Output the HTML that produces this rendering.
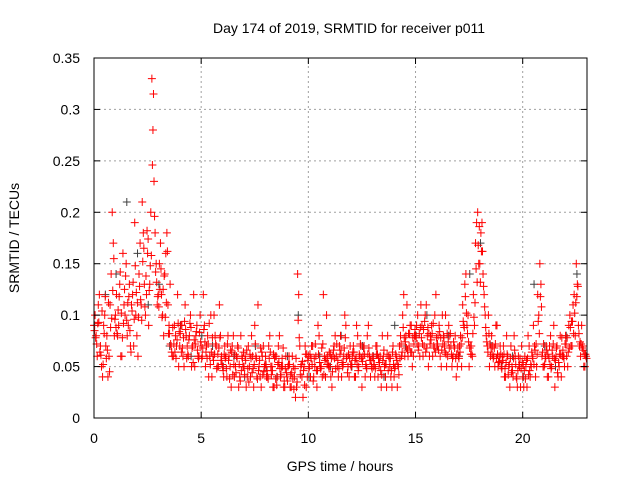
<!DOCTYPE html>
<html><head><meta charset="utf-8">
<style>
html,body{margin:0;padding:0;background:#fff;}
svg{display:block;font-family:"Liberation Sans",sans-serif;}
</style></head>
<body>
<svg id="chart" width="640" height="480">
  <rect width="640" height="480" fill="#fff"/>
  <g id="grid"></g>
  <g id="pts"></g>
  <rect x="94" y="58" width="493" height="360" fill="none" stroke="#000" stroke-width="1"/>
  <g id="axes"></g>
  <text x="349" y="33" font-size="14" text-anchor="middle">Day 174 of 2019, SRMTID for receiver p011</text>
  <text x="340" y="471" font-size="14" text-anchor="middle">GPS time / hours</text>
  <text x="19" y="238" font-size="14" text-anchor="middle" transform="rotate(-90 19 238)">SRMTID / TECUs</text>
</svg>
<script>
const xTicks=[0,5,10,15,20];
const yTicks=[0,0.05,0.1,0.15,0.2,0.25,0.3,0.35];
const yTickLabels=["0","0.05","0.1","0.15","0.2","0.25","0.3","0.35"];
const redAStart=0, redAStep=0.1;
const redA=[.09,.08,.11,.07,.04,.10,.08,.06,.14,.17,
.10,.08,.13,.06,.11,.15,.09,.07,.12,.19,
.08,.14,.11,.18,.10,.16,.13,.33,.23,.15,
.12,.17,.10,.14,.18,.09,.07,.06,.08,.12,
.07,.09,.05,.08,.06,.10,.07,.05,.09,.06,
.07,.12,.05,.08,.06,.04,.10,.07,.05,.08,
.05,.07,.04,.06,.03,.08,.05,.07,.04,.06,
.05,.03,.07,.04,.06,.09,.04,.05,.03,.07,
.06,.04,.08,.05,.03,.06,.07,.04,.05,.03,
.04,.06,.03,.05,.02,.14,.07,.04,.05,.03,
.06,.04,.07,.05,.03,.08,.05,.12,.04,.06,
.05,.03,.07,.06,.04,.08,.05,.10,.06,.04,
.05,.07,.04,.08,.06,.03,.07,.05,.09,.04,
.06,.04,.07,.05,.03,.06,.04,.08,.05,.03,
.04,.06,.05,.08,.10,.06,.11,.07,.09,.06,
.08,.10,.06,.09,.07,.11,.05,.08,.06,.10,
.07,.09,.05,.08,.10,.06,.08,.05,.07,.04,
.06,.08,.11,.13,.09,.05,.07,.12,.17,.20,
.15,.19,.12,.08,.10,.06,.07,.05,.09,.06,
.05,.07,.04,.06,.03,.05,.08,.04,.06,.03,
.04,.06,.03,.07,.05,.09,.04,.12,.15,.06,
.05,.07,.04,.08,.06,.03,.07,.05,.04,.06,
.08,.05,.10,.07,.12,.15,.09,.06,.07,.05];
const redBStart=0.05, redBStep=0.1;
const redB=[.10,.06,.12,.05,.09,.07,.04,.11,.20,.08,
.12,.09,.06,.16,.10,.08,.13,.11,.07,.10,
.06,.17,.21,.13,.12,.09,.20,.28,.18,.11,
.15,.12,.08,.16,.11,.13,.06,.09,.07,.05,
.09,.06,.11,.07,.08,.05,.12,.08,.06,.10,
.06,.09,.07,.04,.10,.06,.08,.05,.11,.06,
.04,.06,.08,.05,.07,.04,.06,.03,.08,.05,
.06,.04,.05,.08,.03,.06,.11,.04,.06,.05,
.04,.07,.05,.03,.06,.04,.08,.05,.03,.06,
.05,.03,.06,.04,.03,.12,.05,.02,.07,.04,
.05,.07,.04,.06,.09,.05,.04,.06,.10,.05,
.04,.06,.08,.05,.07,.04,.06,.09,.05,.07,
.06,.04,.09,.05,.07,.06,.04,.08,.06,.05,
.05,.07,.04,.06,.08,.05,.03,.06,.04,.07,
.05,.03,.07,.06,.12,.08,.06,.09,.05,.08,
.09,.07,.11,.06,.10,.08,.06,.09,.07,.12,
.08,.06,.10,.07,.05,.09,.07,.06,.08,.05,
.07,.05,.09,.14,.10,.07,.06,.09,.19,.15,
.18,.14,.10,.07,.05,.08,.06,.09,.05,.07,
.06,.04,.08,.05,.07,.04,.06,.03,.05,.07,
.03,.05,.08,.04,.06,.07,.05,.10,.13,.05,
.06,.04,.07,.05,.09,.06,.04,.08,.06,.05,
.06,.09,.07,.11,.08,.13,.07,.09,.05,.06];
const redCStart=0.025, redCStep=0.1;
const redC=[.085,.072,.093,.061,.052,.118,.066,.045,.097,.155,
.088,.105,.142,.078,.125,.095,.118,.064,.132,.148,
.112,.128,.095,.165,.138,.174,.148,.246,.196,.132,
.108,.145,.125,.098,.162,.082,.064,.072,.058,.092,
.082,.068,.094,.058,.076,.088,.054,.072,.066,.083,
.058,.086,.064,.072,.052,.078,.062,.048,.068,.056,
.046,.058,.072,.038,.064,.052,.044,.068,.036,.058,
.042,.066,.035,.058,.048,.072,.038,.056,.064,.045,
.052,.038,.064,.046,.058,.032,.054,.042,.068,.048,
.036,.052,.044,.028,.058,.095,.042,.055,.032,.062,
.048,.058,.036,.072,.046,.054,.068,.042,.058,.052,
.062,.045,.058,.072,.048,.066,.052,.078,.044,.058,
.052,.064,.058,.046,.072,.055,.062,.048,.068,.056,
.058,.048,.062,.054,.042,.066,.052,.046,.058,.064,
.048,.056,.042,.072,.088,.074,.066,.082,.064,.072,
.078,.066,.088,.072,.094,.068,.082,.076,.092,.064,
.072,.084,.066,.078,.062,.074,.082,.058,.068,.062,
.058,.072,.094,.118,.082,.068,.062,.098,.145,.168,
.132,.162,.108,.074,.082,.068,.058,.072,.062,.055,
.048,.062,.054,.042,.058,.046,.066,.038,.052,.048,
.052,.038,.058,.046,.064,.052,.072,.094,.118,.064,
.052,.066,.058,.048,.072,.056,.044,.062,.078,.058,
.072,.064,.088,.094,.102,.118,.082,.072,.066,.062];
const redDStart=0.075, redDStep=0.1;
const redD=[.078,.092,.064,.104,.082,.058,.112,.088,.124,.096,
.082,.118,.102,.092,.138,.112,.085,.104,.096,.122,
.098,.115,.152,.108,.182,.124,.158,.315,.142,.118,
.125,.098,.138,.112,.082,.072,.088,.064,.076,.084,
.064,.078,.086,.062,.092,.068,.076,.084,.058,.074,
.068,.074,.058,.092,.064,.056,.072,.062,.078,.052,
.062,.048,.056,.066,.042,.062,.058,.052,.046,.064,
.056,.048,.062,.044,.052,.058,.046,.068,.042,.052,
.046,.058,.042,.062,.038,.052,.048,.058,.036,.044,
.052,.042,.038,.048,.035,.078,.052,.046,.062,.056,
.062,.052,.058,.046,.062,.048,.072,.056,.052,.064,
.058,.066,.048,.056,.062,.054,.068,.058,.062,.052,
.064,.056,.052,.062,.058,.068,.052,.062,.056,.048,
.052,.062,.058,.046,.056,.052,.062,.058,.046,.052,
.062,.052,.058,.064,.078,.068,.082,.064,.078,.086,
.072,.082,.078,.086,.064,.088,.072,.082,.068,.078,
.066,.078,.072,.064,.082,.068,.062,.074,.058,.068,
.064,.078,.088,.102,.074,.062,.082,.112,.132,.186,
.162,.128,.088,.064,.072,.062,.068,.058,.054,.062,
.056,.048,.062,.052,.044,.058,.052,.046,.058,.054,
.046,.056,.042,.052,.058,.066,.062,.082,.108,.072,
.058,.062,.052,.066,.058,.068,.054,.062,.066,.072,
.078,.068,.094,.082,.112,.128,.074,.068,.062,.058];
const blackStart=0.03, blackStep=0.5;
const black=[.09,.12,.14,.21,.16,.11,.13,.07,.09,.06,
.08,.07,.05,.06,.04,.07,.05,.04,.06,.10,
.04,.06,.05,.08,.05,.07,.06,.04,.09,.07,
.08,.10,.07,.08,.06,.14,.17,.07,.05,.06,
.04,.13,.07,.05,.08,.14];

const X0=94,X1=587,Y0=418,Y1=58,XMAX=23,YMAX=0.35;
const xs=v=>X0+(v/XMAX)*(X1-X0);
const ys=v=>Y0-(v/YMAX)*(Y0-Y1);
const NS="http://www.w3.org/2000/svg";
const grid=document.getElementById('grid'),axes=document.getElementById('axes'),pts=document.getElementById('pts');
function mk(tag,attrs,parent){const e=document.createElementNS(NS,tag);for(const k in attrs)e.setAttribute(k,attrs[k]);parent.appendChild(e);return e;}
xTicks.forEach(t=>{
  const x=xs(t);
  if(t>0){const g=mk('line',{x1:x,x2:x,y1:Y0,y2:Y1,stroke:'#a0a0a0','stroke-dasharray':'2,3'},grid);
  
  }
  const tk=mk('line',{x1:x,x2:x,y1:Y0,y2:Y0-6,stroke:'#000'},axes);
  
  
  const tk2=mk('line',{x1:x,x2:x,y1:Y1,y2:Y1+6,stroke:'#000'},axes);
  
  
  const l=mk('text',{x:x,y:443,'font-size':14,'text-anchor':'middle'},axes);l.textContent=String(t);
  
  
});
yTicks.forEach((t,i)=>{
  const y=ys(t);
  if(t>0&&t<YMAX){const g=mk('line',{x1:X0,x2:X1,y1:y,y2:y,stroke:'#a0a0a0','stroke-dasharray':'2,3'},grid);
  
  }
  const tk=mk('line',{x1:X0,x2:X0+6,y1:y,y2:y,stroke:'#000'},axes);
  
  
  const tk2=mk('line',{x1:X1,x2:X1-6,y1:y,y2:y,stroke:'#000'},axes);
  
  
  const l=mk('text',{x:80,y:y+5,'font-size':14,'text-anchor':'end'},axes);l.textContent=yTickLabels[i];
  
  
});
function plus(t,v,color,name){
  const x=xs(t),y=ys(v);
  const p=mk('path',{d:`M${x-4},${y}H${x+4}M${x},${y-4}V${y+4}`,stroke:color,'stroke-width':1,fill:'none'},pts);
  
  
}
black.forEach((v,i)=>plus(blackStart+i*blackStep,v,'#404040','black-point'));
redA.forEach((v,i)=>plus(redAStart+i*redAStep,v,'#ff0000','red-point'));
redB.forEach((v,i)=>plus(redBStart+i*redBStep,v,'#ff0000','red-point'));
redC.forEach((v,i)=>plus(redCStart+i*redCStep,v,'#ff0000','red-point'));
redD.forEach((v,i)=>plus(redDStart+i*redDStep,v,'#ff0000','red-point'));
</script>
</body></html>
